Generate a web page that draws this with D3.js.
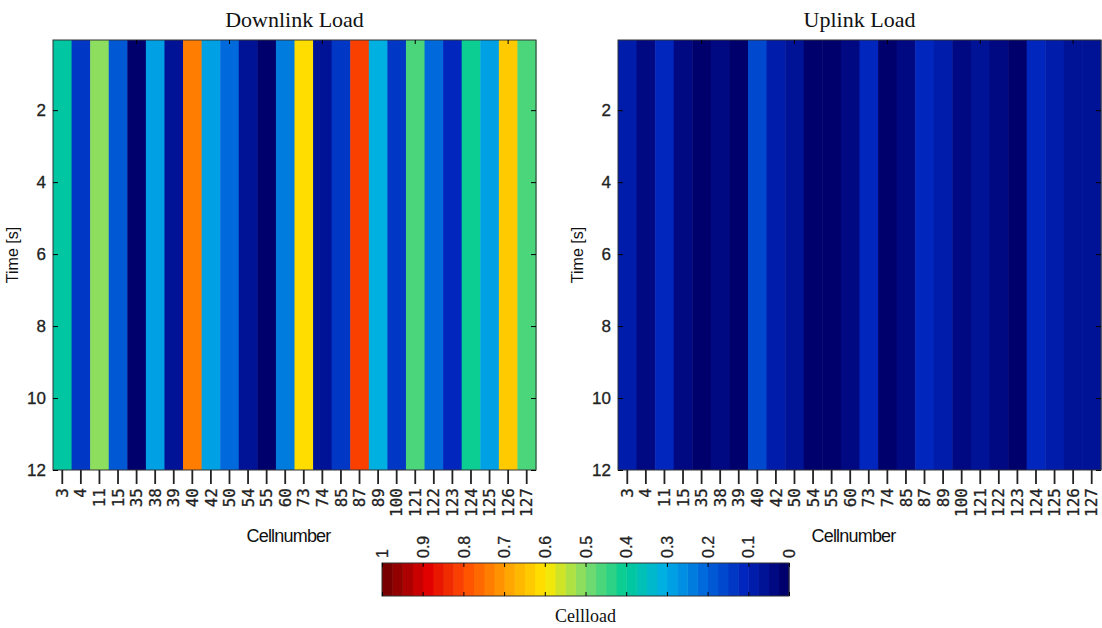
<!DOCTYPE html>
<html>
<head>
<meta charset="utf-8">
<script src="https://cdn.jsdelivr.net/npm/d3@7"></script>
<style>
  body { margin: 0; background: #fff; }
  svg { display: block; }
</style>
</head>
<body>
<svg id="chart" width="1102" height="628"></svg>
<script>
// cell ids shown on the x axis of both maps
const cells = [3, 4, 11, 15, 35, 38, 39, 40, 42, 50, 54, 55, 60, 73, 74, 85, 87, 89, 100, 121, 122, 123, 124, 125, 126, 127];

// load per cell (constant over time)
const downlinkLoad = [0.38, 0.13, 0.5, 0.19, 0.0, 0.29, 0.06, 0.74, 0.29, 0.2, 0.05, 0.0, 0.24, 0.6, 0.06, 0.13, 0.8, 0.32, 0.13, 0.46, 0.2, 0.1, 0.41, 0.29, 0.63, 0.46];
const uplinkLoad = [0.08, 0.04, 0.11, 0.035, 0.01, 0.03, 0.0, 0.16, 0.08, 0.05, 0.0, 0.0, 0.045, 0.1, 0.0, 0.035, 0.12, 0.075, 0.04, 0.05, 0.04, 0.0, 0.1, 0.09, 0.06, 0.05];

const timeTicks = [2, 4, 6, 8, 10, 12];
const colorTicks = [1, 0.9, 0.8, 0.7, 0.6, 0.5, 0.4, 0.3, 0.2, 0.1, 0];

// jet-like colormap as it appears in the figure
const mapStops = [0, 0.1, 0.2, 0.3, 0.4, 0.5, 0.6, 0.7, 0.8, 0.9, 1];
const mapColors = ["#00006c", "#0024bc", "#0066dc", "#00aee6", "#00cc96", "#7cdc6c", "#ffe800", "#ffa000", "#ff5000", "#e00000", "#780000"];
const levels = 40;

const svg = d3.select("#chart");
const jet = d3.scaleLinear().domain(mapStops).range(mapColors).clamp(true);
const color = v => jet(Math.min(levels - 1, Math.floor(v * levels)) / (levels - 1));

const plotTop = 40, plotBottom = 470;
const panels = [
  { title: "Downlink Load", values: downlinkLoad, left: 53, right: 536 },
  { title: "Uplink Load", values: uplinkLoad, left: 618, right: 1101 }
];

panels.forEach(p => {
  let g = svg.append("g");
  let x = d3.scaleBand().domain(cells).range([p.left, p.right]);
  let y = d3.scaleLinear().domain([0.05, 12]).range([plotTop, plotBottom]);

  g.selectAll(".cell")
    .data(cells)
    .enter()
    .append("rect")
    .attr("x", d => x(d))
    .attr("y", plotTop)
    .attr("width", x.bandwidth() + 0.5)
    .attr("height", plotBottom - plotTop)
    .attr("fill", (d, i) => color(p.values[i]));

  // frame
  g.append("rect")
    .attr("x", p.left).attr("y", plotTop)
    .attr("width", p.right - p.left).attr("height", plotBottom - plotTop)
    .attr("fill", "none").attr("stroke", "#333").attr("stroke-width", 1);

  // y axis, inward ticks on both sides
  g.append("g")
    .attr("transform", `translate(${p.left},0)`)
    .call(d3.axisLeft(y).tickValues(timeTicks).tickSizeInner(-5).tickSizeOuter(0).tickPadding(7))
    .call(a => a.select(".domain").remove())
    .selectAll("text")
    .attr("font-family", "Liberation Sans, Arial, sans-serif")
    .attr("font-size", 17)
    .attr("fill", "#222")
    .attr("stroke", "#222").attr("stroke-width", 0.3);
  g.append("g")
    .attr("transform", `translate(${p.right},0)`)
    .call(d3.axisRight(y).tickValues(timeTicks).tickSizeInner(-5).tickSizeOuter(0).tickFormat(""))
    .call(a => a.select(".domain").remove());

  // top ticks every 5th column
  g.append("g")
    .attr("transform", `translate(0,${plotTop})`)
    .call(d3.axisTop(x).tickValues(cells.filter((d, i) => (i + 1) % 5 === 0)).tickSizeInner(-4).tickSizeOuter(0).tickFormat(""))
    .call(a => a.select(".domain").remove());

  // x axis with cell labels
  g.append("g")
    .attr("transform", `translate(0,${plotBottom})`)
    .call(d3.axisBottom(x).tickSizeInner(14).tickSizeOuter(0).tickPadding(0))
    .call(a => a.select(".domain").remove())
    .call(a => a.selectAll("line").attr("stroke", "#222").attr("stroke-width", 1.8))
    .selectAll("text")
    .attr("font-family", "DejaVu Sans Mono, monospace")
    .attr("font-size", 16)
    .attr("fill", "#222")
    .attr("stroke", "#222").attr("stroke-width", 0.3)
    .attr("text-anchor", "end")
    .attr("dy", "0.35em")
    .attr("transform", "translate(0,18) rotate(-90)")
    .attr("x", 0).attr("y", 0);

  g.append("text")
    .attr("x", (p.left + p.right) / 2).attr("y", 27)
    .attr("text-anchor", "middle")
    .attr("font-family", "Liberation Serif, Times New Roman, serif")
    .attr("font-size", 22)
    .attr("fill", "#111")
    .text(p.title);

  g.append("text")
    .attr("x", (p.left + p.right) / 2 - 6).attr("y", 542)
    .attr("text-anchor", "middle")
    .attr("font-family", "Liberation Sans, Arial, sans-serif")
    .attr("font-size", 18)
    .attr("letter-spacing", -0.8)
    .attr("fill", "#111")
    .text("Cellnumber");

  g.append("text")
    .attr("transform", `translate(${p.left - 35},${(plotTop + plotBottom) / 2}) rotate(-90)`)
    .attr("text-anchor", "middle")
    .attr("font-family", "Liberation Sans, Arial, sans-serif")
    .attr("font-size", 16)
    .attr("fill", "#111")
    .text("Time [s]");
});

// colorbar
const cb = { left: 382, right: 789, top: 563, bottom: 596 };
const cx = d3.scaleLinear().domain([1, 0]).range([cb.left, cb.right]);
const steps = d3.range(levels).map(i => i / levels);
const cbar = svg.append("g");
cbar.selectAll(".step")
  .data(steps)
  .enter()
  .append("rect")
  .attr("x", d => cx(d + 1 / levels))
  .attr("y", cb.top)
  .attr("width", (cb.right - cb.left) / levels + 0.5)
  .attr("height", cb.bottom - cb.top)
  .attr("fill", d => color(d + 0.5 / levels));
cbar.append("rect")
  .attr("x", cb.left).attr("y", cb.top)
  .attr("width", cb.right - cb.left).attr("height", cb.bottom - cb.top)
  .attr("fill", "none").attr("stroke", "#333");
cbar.append("g")
  .attr("transform", `translate(0,${cb.top})`)
  .call(d3.axisTop(cx).tickValues(colorTicks).tickSizeInner(-4).tickSizeOuter(0).tickPadding(5)
    .tickFormat(d => (d === 0 || d === 1) ? String(d) : d.toFixed(1)))
  .call(a => a.select(".domain").remove())
  .selectAll("text")
  .attr("font-family", "Liberation Sans, Arial, sans-serif")
  .attr("font-size", 16)
  .attr("fill", "#222")
  .attr("stroke", "#222").attr("stroke-width", 0.3)
  .attr("text-anchor", "start")
  .attr("dy", "0.35em")
  .attr("transform", "translate(0,-5) rotate(-90)")
  .attr("x", 0).attr("y", 0);
cbar.append("g")
  .attr("transform", `translate(0,${cb.bottom})`)
  .call(d3.axisBottom(cx).tickValues(colorTicks).tickSizeInner(-4).tickSizeOuter(0).tickFormat(""))
  .call(a => a.select(".domain").remove());
cbar.append("text")
  .attr("x", (cb.left + cb.right) / 2).attr("y", 622)
  .attr("text-anchor", "middle")
  .attr("font-family", "Liberation Serif, Times New Roman, serif")
  .attr("font-size", 18)
  .attr("fill", "#111")
  .text("Cellload");
</script>
</body>
</html>
